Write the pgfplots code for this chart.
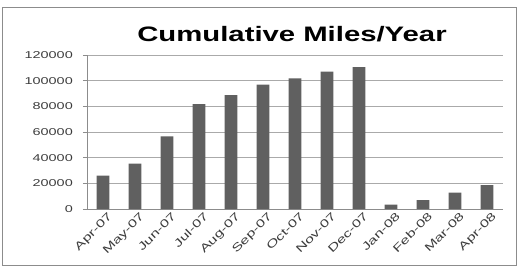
\documentclass[border=0pt]{standalone}
\usepackage{pgfplots}
\pgfplotsset{compat=1.18}
\usepackage{fontspec}
\setmainfont{Liberation Sans}
\newfontfamily\wideticks[FakeStretch=1.45]{Liberation Sans}
\newfontfamily\widetitle[FakeStretch=1.4]{Liberation Sans}
\definecolor{barcol}{RGB}{96,96,96}
\definecolor{gridcol}{RGB}{170,170,170}
\definecolor{axcol}{RGB}{140,140,140}
\definecolor{txtcol}{RGB}{60,60,60}
\begin{document}
\begin{tikzpicture}
\useasboundingbox (0,0) rectangle (519bp,267bp);
\draw[color=axcol, line width=0.8bp] (2bp,2bp) rectangle (516bp,260bp);
\node[anchor=base, font=\widetitle\bfseries\fontsize{21}{24}\selectfont] at (292bp,225bp) {Cumulative Miles/Year};
\begin{axis}[
  at={(87bp,58bp)}, anchor=south west,
  scale only axis, width=416bp, height=154bp,
  xmin=-0.5, xmax=12.5, ymin=0, ymax=120000,
  axis x line=bottom, axis y line=left,
  axis line style={-, color=axcol, line width=0.6bp},
  ytick={0,20000,...,120000},
  scaled y ticks=false,
  /pgf/number format/fixed,
  /pgf/number format/1000 sep={},
  /pgf/number format/assume math mode=true,
  ymajorgrids, major grid style={color=gridcol, line width=0.6bp},
  xtick={0,...,12},
  xticklabels={Apr-07,May-07,Jun-07,Jul-07,Aug-07,Sep-07,Oct-07,Nov-07,Dec-07,Jan-08,Feb-08,Mar-08,Apr-08},
  minor xtick={-0.5,0.5,...,12.5},
  xtick style={draw=none},
  minor tick length=4bp,
  major tick length=4bp,
  tick align=outside,
  tick style={color=axcol, line width=0.6bp},
  minor tick style={color=axcol, line width=0.6bp},
  ticklabel style={font=\wideticks\fontsize{10}{12}\selectfont, text=txtcol},
  xticklabel style={font=\wideticks\fontsize{11}{13}\selectfont, rotate=45, anchor=north east, inner sep=1bp, xshift=5bp, yshift=-1bp},
  yticklabel style={inner sep=2bp, xshift=-8bp},
  ybar, bar width=12.7bp,
  clip=false,
]
\addplot[fill=barcol, draw=none] coordinates {
 (0,26000) (1,35400) (2,56600) (3,81800) (4,88800) (5,96900) (6,101800)
 (7,107100) (8,110500) (9,3400) (10,7000) (11,12700) (12,18600)
};
\end{axis}
\end{tikzpicture}
\end{document}
